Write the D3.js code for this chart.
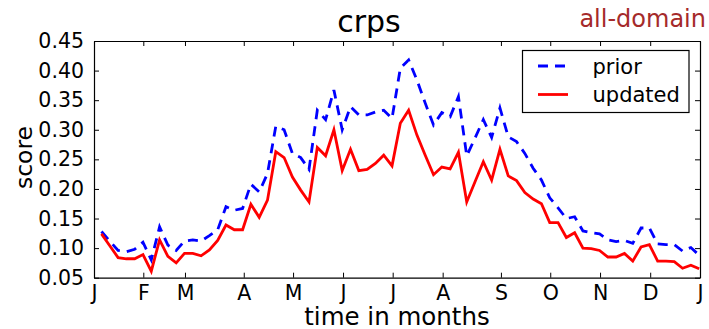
<!DOCTYPE html>
<html><head><meta charset="utf-8">
<script src="https://cdn.jsdelivr.net/npm/d3@7"></script>
<style>
body{margin:0;background:#fff;}
text{font-family:"DejaVu Sans",sans-serif;}
</style></head>
<body><svg id="c" width="709" height="329"></svg>
<script>
const monthLabels = ["J","F","M","A","M","J","J","A","S","O","N","D","J"];
const monthTickDays = [0,29.7,54.8,90.2,119.9,150,179.9,210,245.1,274.8,304.8,335,365];
const yTicks = [0.05,0.10,0.15,0.20,0.25,0.30,0.35,0.40,0.45];
const seriesNames = ["prior","updated"];
const prior = [0.128,0.112,0.096,0.094,0.098,0.110,0.080,0.136,0.105,0.096,0.112,0.114,0.112,0.121,0.131,0.170,0.164,0.167,0.208,0.195,0.226,0.306,0.300,0.260,0.253,0.233,0.333,0.317,0.367,0.300,0.339,0.325,0.325,0.330,0.333,0.319,0.404,0.418,0.384,0.345,0.308,0.329,0.322,0.356,0.256,0.286,0.317,0.287,0.337,0.288,0.280,0.260,0.235,0.215,0.185,0.168,0.150,0.153,0.129,0.126,0.124,0.114,0.111,0.113,0.108,0.134,0.134,0.107,0.106,0.106,0.095,0.101,0.088];
const updated = [0.124,0.104,0.084,0.082,0.082,0.089,0.061,0.114,0.086,0.075,0.091,0.091,0.087,0.097,0.113,0.139,0.131,0.131,0.174,0.152,0.181,0.263,0.253,0.220,0.198,0.178,0.270,0.256,0.300,0.231,0.267,0.231,0.233,0.243,0.257,0.239,0.311,0.333,0.291,0.257,0.224,0.237,0.234,0.262,0.178,0.212,0.246,0.215,0.267,0.222,0.214,0.194,0.183,0.175,0.143,0.143,0.118,0.126,0.100,0.099,0.096,0.085,0.085,0.091,0.078,0.102,0.106,0.078,0.078,0.077,0.066,0.071,0.065];
const sampleDays = d3.range(prior.length).map(i => 4.5 + 5*i);

const svg = d3.select("#c");
const L=94, R=700, T=41, B=277.7;
const x = d3.scaleLinear().domain([0,365]).range([L,R]);
const y = d3.scaleLinear().domain([0.05,0.45]).range([B,T]);

const g = svg.append("g");
const line = d3.line().x((d,i)=>x(sampleDays[i])).y(d=>y(d));
g.append("path").datum(prior).attr("d",line).attr("fill","none")
  .attr("stroke","#0000ff").attr("stroke-width",2.8).attr("stroke-dasharray","10,7");
g.append("path").datum(updated).attr("d",line).attr("fill","none")
  .attr("stroke","#ff0000").attr("stroke-width",2.8);

const fmt = d3.format(".2f");
const axL = d3.axisLeft(y).tickValues(yTicks).tickFormat(fmt).tickSizeInner(-5).tickSizeOuter(0).tickPadding(10);
const axR = d3.axisRight(y).tickValues(yTicks).tickFormat("").tickSizeInner(-5).tickSizeOuter(0);
const axB = d3.axisBottom(x).tickValues(monthTickDays).tickFormat((d,i)=>monthLabels[i]).tickSizeInner(-5).tickSizeOuter(0).tickPadding(8);
const axT = d3.axisTop(x).tickValues(monthTickDays).tickFormat("").tickSizeInner(-5).tickSizeOuter(0);
function style(sel){ sel.selectAll("path").attr("stroke","#000").attr("stroke-width",1.2);
  sel.selectAll("line").attr("stroke","#000").attr("stroke-width",1);
  sel.selectAll("text").attr("fill","#000").style("font-family","DejaVu Sans").style("font-size","20.5px"); }
svg.append("g").attr("transform",`translate(${L},0)`).call(axL).call(style);
svg.append("g").attr("transform",`translate(${R},0)`).call(axR).call(style);
svg.append("g").attr("transform",`translate(0,${B})`).call(axB).call(style);
svg.append("g").attr("transform",`translate(0,${T})`).call(axT).call(style);

svg.append("text").attr("x",369).attr("y",31.5).attr("text-anchor","middle").style("font-size","30px").text("crps");
svg.append("text").attr("x",706).attr("y",26.5).attr("text-anchor","end").style("font-size","24px").attr("fill","#a52a2a").text("all-domain");
svg.append("text").attr("x",397).attr("y",324.5).attr("text-anchor","middle").style("font-size","24.5px").text("time in months");
svg.append("text").attr("transform","translate(32,157.5) rotate(-90)").attr("text-anchor","middle").style("font-size","23.5px").text("score");

const lg = svg.append("g");
lg.append("rect").attr("x",522.5).attr("y",50.5).attr("width",166.5).attr("height",62).attr("fill","#fff").attr("stroke","#000").attr("stroke-width",1.2);
const colors = ["#0000ff","#ff0000"], dashes=["10,7",null], ly=[66,94.5];
seriesNames.forEach((n,i)=>{
  lg.append("line").attr("x1",538).attr("x2",568).attr("y1",ly[i]).attr("y2",ly[i])
    .attr("stroke",colors[i]).attr("stroke-width",2.8).attr("stroke-dasharray",dashes[i]);
  lg.append("text").attr("x",592.5).attr("y",ly[i]+7.5).style("font-size","21px").text(n);
});
</script></body></html>
